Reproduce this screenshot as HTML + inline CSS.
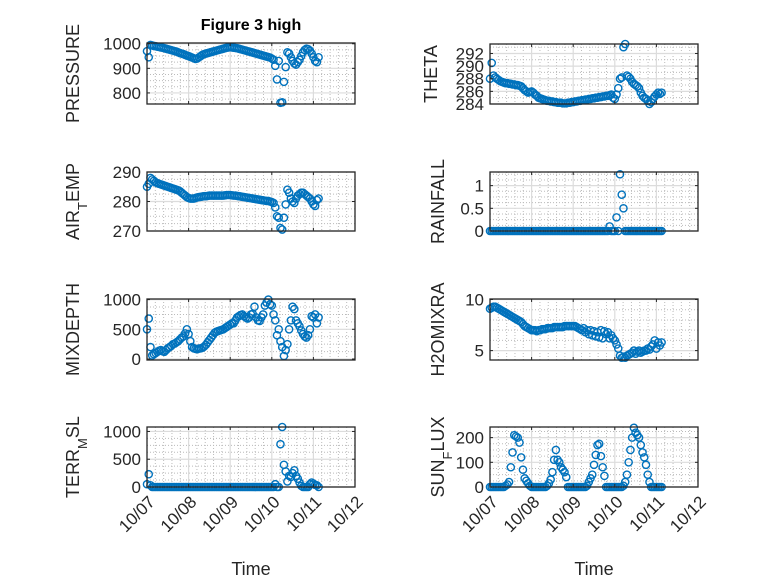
<!DOCTYPE html>
<html><head><meta charset="utf-8"><style>
html,body{margin:0;padding:0;background:#fff;}
svg{display:block;font-family:"Liberation Sans","DejaVu Sans",sans-serif;}
</style></head><body>
<svg id="fig" width="778" height="583" viewBox="0 0 778 583" xmlns="http://www.w3.org/2000/svg">
<rect width="778" height="583" fill="#fff"/>
<text x="251" y="30" text-anchor="middle" font-size="16" font-weight="bold" fill="#000">Figure 3 high</text>
</svg>
<script>
// hours since 10/07 00:00
const hours = Array.from({length:100},(_,i)=>i);
const xTickLabels = ["10/07","10/08","10/09","10/10","10/11","10/12"];
const pressure = [970,945,995,993,991,990,988,987,985,984,982,980,978,976,974,972,970,968,965,962,960,958,955,952,950,947,944,941,938,940,945,950,955,958,960,962,964,966,968,970,972,974,976,978,980,982,984,985,986,985,984,983,982,980,978,976,974,972,970,968,966,964,962,960,958,956,954,952,950,948,946,944,940,935,910,855,930,760,762,845,905,965,960,945,930,920,915,925,935,950,965,975,980,978,972,960,945,930,925,945];
const airTemp = [285,286,288,287.5,287,286.5,286.2,286,285.8,285.6,285.4,285.2,285,284.8,284.6,284.4,284.2,284,283.8,283.5,283,282.5,282,281.5,281.2,281,281,281,281.2,281.4,281.5,281.6,281.7,281.8,281.8,281.9,282,282,282,282,282,282,282,282,282,282.1,282.2,282.2,282.2,282.1,282,282,281.9,281.8,281.7,281.6,281.5,281.4,281.3,281.2,281.1,281,280.9,280.8,280.7,280.6,280.5,280.4,280.3,280.2,280.2,280,279.8,279.5,278,275,274.5,271,270.5,274.5,279,284,283,281,280,279.5,281,282,282.5,283,283,282.5,282,281.5,281,280,279,278.5,280.5,281];
const theta = [288,290.5,288.5,288.2,288,287.8,287.6,287.5,287.4,287.3,287.3,287.2,287.2,287.1,287.1,287,287,286.9,286.8,286.5,286.2,286,285.8,285.9,286,285.8,285.5,285.3,285,284.9,284.8,284.7,284.6,284.5,284.5,284.4,284.4,284.3,284.3,284.2,284.2,284.2,284.1,284.1,284.1,284.2,284.2,284.3,284.3,284.4,284.4,284.5,284.5,284.6,284.6,284.7,284.7,284.8,284.8,284.9,284.9,285,285,285.1,285.1,285.2,285.2,285.3,285.3,285.4,285.5,285,284.8,285.5,286.5,288,288.2,293,293.5,288.5,288.3,288,287.5,287.2,287,286.8,286.5,285.8,285.3,285,284.8,284.5,284,284.3,284.8,285.2,285.5,285.8,285.6,285.8];
const rainfall = [0,0,0,0,0,0,0,0,0,0,0,0,0,0,0,0,0,0,0,0,0,0,0,0,0,0,0,0,0,0,0,0,0,0,0,0,0,0,0,0,0,0,0,0,0,0,0,0,0,0,0,0,0,0,0,0,0,0,0,0,0,0,0,0,0,0,0,0,0,0.1,0,0,0,0.3,0,1.25,0.8,0.5,0,0,0,0,0,0,0,0,0,0,0,0,0,0,0,0,0,0,0,0,0,0];
const mixDepth = [500,680,200,60,80,100,120,140,150,130,120,150,180,200,220,250,260,280,300,330,360,380,430,500,420,300,200,180,170,165,175,180,190,210,240,280,320,360,400,440,460,470,480,490,500,520,540,560,580,600,600,650,700,720,740,750,720,700,680,700,750,760,880,700,650,640,700,750,900,950,1000,920,900,750,650,400,500,300,200,50,150,250,500,650,880,840,650,600,550,480,420,380,360,400,500,720,700,750,600,700];
const h2oMixRa = [9.1,9.2,9.3,9.3,9.2,9.1,9,8.9,8.8,8.7,8.6,8.5,8.4,8.3,8.2,8.1,8,7.9,7.8,7.6,7.4,7.3,7.2,7.1,7,7,7,6.9,7,7,7.1,7.1,7.1,7.2,7.2,7.2,7.2,7.3,7.3,7.3,7.3,7.3,7.3,7.4,7.4,7.4,7.4,7.4,7.4,7.4,7.3,7.2,7.1,7,7.2,6.8,7,6.6,7,6.5,6.9,6.4,6.8,6.3,7,6.2,6.9,6.6,6.8,6.2,6.5,6.2,6,5.6,5.2,4.5,4.3,4.4,4.3,4.5,4.6,4.7,4.8,5,4.7,4.9,5,4.8,4.9,5,5,5.2,5.1,5.4,5.6,6,5.2,5.8,5.5,5.8];
const terrMsl = [50,230,30,0,0,0,0,0,0,0,0,0,0,0,0,0,0,0,0,0,0,0,0,0,0,0,0,0,0,0,0,0,0,0,0,0,0,0,0,0,0,0,0,0,0,0,0,0,0,0,0,0,0,0,0,0,0,0,0,0,0,0,0,0,0,0,0,0,0,0,0,0,0,0,50,0,0,770,1080,400,280,100,200,180,250,300,200,150,80,20,0,0,0,0,50,80,60,40,30,0];
const sunFlux = [0,0,0,0,0,0,0,0,0,5,10,20,80,140,210,205,200,180,120,70,35,25,15,5,0,0,0,0,0,0,0,0,0,5,15,30,60,110,150,110,100,80,70,60,40,0,0,0,0,0,0,0,0,0,0,0,5,20,35,50,90,130,170,175,125,80,45,0,0,0,0,0,0,0,0,0,0,5,20,50,100,150,200,240,220,210,200,170,140,120,90,50,20,0,0,0,0,0,0,0];

const pressureTicks=[800,900,1000], airTicks=[270,280,290], thetaTicks=[284,286,288,290,292],
      rainTicks=[0,0.5,1], mixTicks=[0,500,1000], h2oTicks=[5,10], terrTicks=[0,500,1000], sunTicks=[0,100,200];

const NS="http://www.w3.org/2000/svg";
const svg=document.getElementById('fig');
function mk(tag,attrs,parent){const e=document.createElementNS(NS,tag);for(const k in attrs)e.setAttribute(k,attrs[k]);(parent||svg).appendChild(e);return e;}

const panels=[
 {name:'pressure',x0:147,y0:43,y1:104,ymin:755,ymax:1003,vals:pressure,ticks:pressureTicks,labelParts:[['PRESSURE']],lx:79,minor:4},
 {name:'air-temp',x0:147,y0:172,y1:231,ymin:270,ymax:290,vals:airTemp,ticks:airTicks,labelParts:[['AIR'],['T','sub'],['EMP']],lx:79,minor:4},
 {name:'mixdepth',x0:147,y0:299,y1:360,ymin:-17,ymax:1010,vals:mixDepth,ticks:mixTicks,labelParts:[['MIXDEPTH']],lx:79,minor:4},
 {name:'terr-msl',x0:147,y0:427,y1:487,ymin:0,ymax:1080,vals:terrMsl,ticks:terrTicks,labelParts:[['TERR'],['M','sub'],['SL']],lx:79,minor:4},
 {name:'theta',x0:490,y0:44,y1:104,ymin:284,ymax:293.5,vals:theta,ticks:thetaTicks,labelParts:[['THETA']],lx:437,minor:2},
 {name:'rainfall',x0:490,y0:172,y1:231,ymin:0,ymax:1.3,vals:rainfall,ticks:rainTicks,labelParts:[['RAINFALL']],lx:444,minor:4},
 {name:'h2omixra',x0:490,y0:299,y1:360,ymin:4.08,ymax:10.05,vals:h2oMixRa,ticks:h2oTicks,labelParts:[['H2OMIXRA']],lx:444,minor:5},
 {name:'sun-flux',x0:490,y0:427,y1:487,ymin:0,ymax:243,vals:sunFlux,ticks:sunTicks,labelParts:[['SUN'],['F','sub'],['LUX']],lx:444,minor:4}
];
const W=208, DAYS=5;

panels.forEach((p,pi)=>{
  const g=mk('g',{});
  
  
  const xs=h=>p.x0+h/24/DAYS*W;
  const ys=v=>p.y1-(v-p.ymin)/(p.ymax-p.ymin)*(p.y1-p.y0);
  mk('rect',{x:p.x0,y:p.y0,width:W,height:p.y1-p.y0,fill:'#fff'},g);
  for(let d=0;d<DAYS;d++)for(let m=1;m<5;m++){const x=p.x0+(d+m/5)/DAYS*W;
    mk('line',{x1:x,x2:x,y1:p.y0,y2:p.y1,stroke:'#bbb','stroke-width':1,'stroke-dasharray':'1 2'},g);}
  const step=p.ticks.length>1?p.ticks[1]-p.ticks[0]:1;
  for(let v=p.ticks[0]-step;v<=p.ymax+step;v+=step/p.minor){
    if(v<p.ymin||v>p.ymax)continue;
    if(p.ticks.some(t=>Math.abs(t-v)<1e-9))continue;
    const y=ys(v);mk('line',{x1:p.x0,x2:p.x0+W,y1:y,y2:y,stroke:'#bbb','stroke-width':1,'stroke-dasharray':'1 2'},g);
  }
  for(let d=1;d<DAYS;d++){const x=p.x0+d/DAYS*W;mk('line',{x1:x,x2:x,y1:p.y0,y2:p.y1,stroke:'#dcdcdc','stroke-width':1.2},g);}
  p.ticks.forEach(t=>{const y=ys(t);mk('line',{x1:p.x0,x2:p.x0+W,y1:y,y2:y,stroke:'#dcdcdc','stroke-width':1.2},g);});
  const dg=mk('g',{},g);
  
  
  p.vals.forEach((v,i)=>{
    const c=mk('circle',{cx:xs(hours[i]),cy:ys(v),r:3.6,fill:'none',stroke:'#0072BD','stroke-width':1.4},dg);
    
    
  });
  mk('rect',{x:p.x0,y:p.y0,width:W,height:p.y1-p.y0,fill:'none',stroke:'#262626','stroke-width':1.3},g);
  for(let d=0;d<=DAYS;d++){const x=p.x0+d/DAYS*W;
    mk('line',{x1:x,x2:x,y1:p.y1,y2:p.y1-3,stroke:'#262626'},g);
    mk('line',{x1:x,x2:x,y1:p.y0,y2:p.y0+3,stroke:'#262626'},g);}
  p.ticks.forEach(t=>{const y=ys(t);
    mk('line',{x1:p.x0,x2:p.x0+3,y1:y,y2:y,stroke:'#262626'},g);
    mk('line',{x1:p.x0+W,x2:p.x0+W-3,y1:y,y2:y,stroke:'#262626'},g);
    const tx=mk('text',{x:p.x0-6,y:y+6,'text-anchor':'end','font-size':17,fill:'#262626'},g);
    tx.textContent=String(t);
    
    
  });
  const cy=(p.y0+p.y1)/2;
  const yl=mk('text',{x:0,y:0,'text-anchor':'middle','font-size':18,fill:'#262626',transform:`translate(${p.lx},${cy}) rotate(-90)`},g);
  
  
  p.labelParts.forEach(pt=>{const s=mk('tspan',{},yl);s.textContent=pt[0];
    if(pt[1]==='sub'){s.setAttribute('baseline-shift','sub');s.setAttribute('font-size','13');}});
  if(pi===3||pi===7){
    xTickLabels.forEach((lab,d)=>{const x=p.x0+d/DAYS*W;
      const t=mk('text',{x:0,y:0,'text-anchor':'end','font-size':17,fill:'#262626',transform:`translate(${x+9},${p.y1+16}) rotate(-45)`},g);
      t.textContent=lab;
      
      
    });
    const xl=mk('text',{x:p.x0+W/2,y:575,'text-anchor':'middle','font-size':18,fill:'#262626'},g);
    xl.textContent='Time';
    
    
  }
});
</script>
</body></html>
